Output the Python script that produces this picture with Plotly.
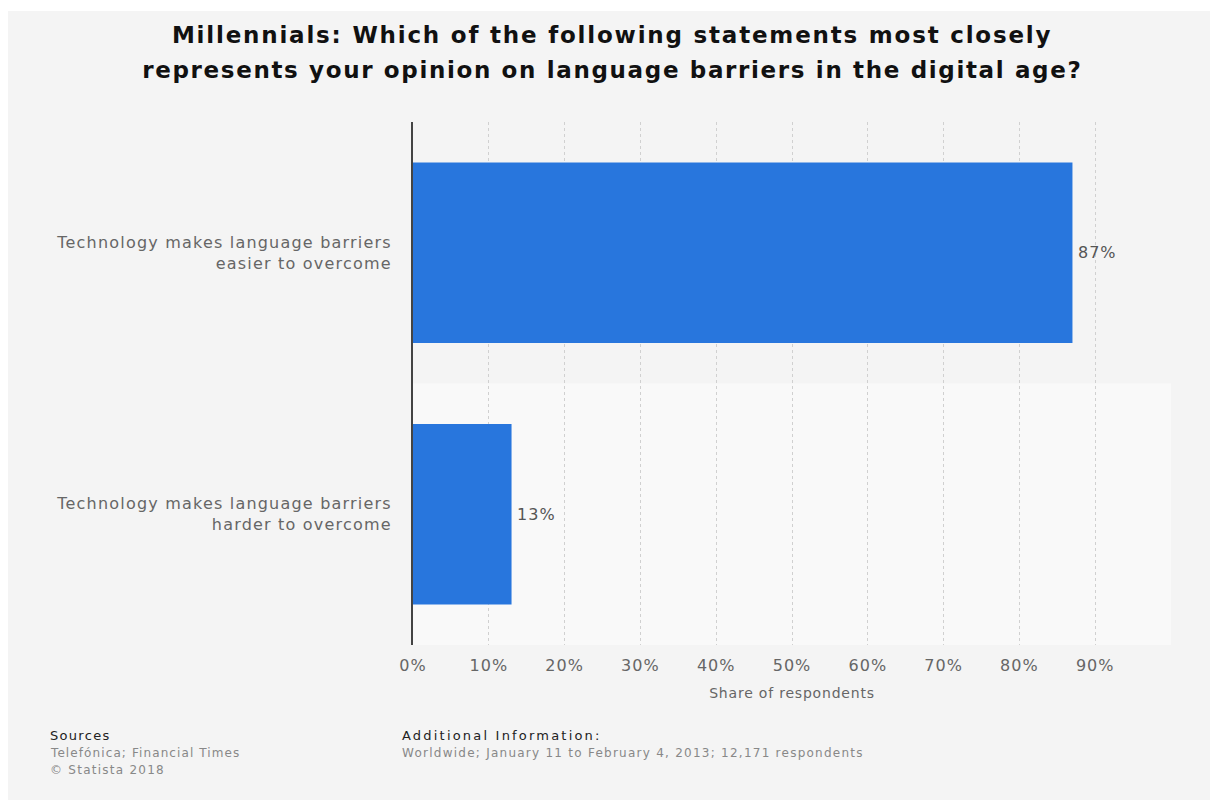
import plotly.graph_objects as go

categories = [
    "Technology makes language barriers<br>harder to overcome",
    "Technology makes language barriers<br>easier to overcome",
]
values = [13, 87]
labels = ["13%", "87%"]
tick_vals = [0, 10, 20, 30, 40, 50, 60, 70, 80, 90, 100]
tick_text = ["0%", "10%", "20%", "30%", "40%", "50%", "60%", "70%", "80%", "90%", ""]

title_lines = [
    "Millennials: Which of the following statements most closely",
    "represents your opinion on language barriers in the digital age?",
]

W, H = 1210, 807
L, R, T, B = 413, 39, 122, 162
pw, ph = W - L - R, H - T - B

def px(x):
    return (x - L) / pw

def py(y):
    return (H - B - y) / ph

fig = go.Figure()
fig.add_trace(go.Bar(
    y=categories, x=values, orientation="h",
    marker=dict(color="#2876dd", line=dict(width=0)),
    text=labels, textposition="outside", cliponaxis=False,
    textfont=dict(family="DejaVu Sans", size=16, color="#555555"),
))

shapes = [
    dict(type="rect", xref="paper", yref="paper", x0=px(8), x1=px(1212), y0=py(800), y1=py(11),
         fillcolor="#f4f4f4", line=dict(width=0), layer="below"),
    dict(type="rect", xref="paper", yref="y", x0=0, x1=1, y0=-0.5, y1=0.5,
         fillcolor="#f9f9f9", line=dict(width=0), layer="below"),
]

def note(text, x, y, size, color, anchor="left", weight="normal"):
    return dict(text=text, x=px(x), y=py(y), xref="paper", yref="paper", xanchor=anchor,
                yanchor="middle", align="left" if anchor == "left" else "center", showarrow=False,
                font=dict(family="DejaVu Sans", size=size, color=color, weight=weight))

annotations = [
    note(title_lines[0], 612, 35, 23, "#111111", anchor="center", weight="bold"),
    note(title_lines[1], 612, 70, 23, "#111111", anchor="center", weight="bold"),
    note("Sources", 48, 735, 13, "#222222"),
    note("Telefónica; Financial Times", 48, 753, 12, "#888888"),
    note("© Statista 2018", 48, 770, 12, "#888888"),
    note("Additional Information:", 400, 735, 13, "#222222"),
    note("Worldwide; January 11 to February 4, 2013; 12,171 respondents", 400, 753, 12, "#888888"),
]

fig.update_layout(
    width=W, height=H,
    margin=dict(l=L, r=R, t=T, b=B, autoexpand=False),
    paper_bgcolor="#ffffff", plot_bgcolor="rgba(0,0,0,0)",
    showlegend=False, bargap=0.31,
    shapes=shapes, annotations=annotations,
    xaxis=dict(range=[0, 100], tickvals=tick_vals, ticktext=tick_text, showgrid=True,
               gridcolor="#d0d0d0", griddash="dot", gridwidth=1, zeroline=False,
               tickfont=dict(family="DejaVu Sans", size=16, color="#666666"), ticks="",
               ticklabelstandoff=9,
               title=dict(text="Share of respondents", standoff=14,
                          font=dict(family="DejaVu Sans", size=14, color="#666666"))),
    yaxis=dict(showline=True, linecolor="#444444", linewidth=2, showgrid=False, ticks="",
               ticklabelstandoff=16,
               tickfont=dict(family="DejaVu Sans", size=16, color="#666666")),
)

js = """
var gd = document.getElementById('{plot_id}');
function ls(sel, v) {
  gd.querySelectorAll(sel).forEach(function (t) { t.style.letterSpacing = v; });
}
function applySpacing() {
  ls('.annotation[data-index="0"] text', '1.8px');
  ls('.annotation[data-index="1"] text', '1.65px');
  ls('.annotation[data-index="2"] text', '1.3px');
  ls('.annotation[data-index="3"] text', '1.1px');
  ls('.annotation[data-index="4"] text', '1.25px');
  ls('.annotation[data-index="5"] text', '2.2px');
  ls('.annotation[data-index="6"] text', '1.25px');
  ls('.xtick text', '1px');
  ls('.ytick text', '1.2px');
  ls('.bartext', '1px');
  ls('.g-xtitle text', '0.8px');
  gd.querySelectorAll('.bartext').forEach(function (t) { t.setAttribute('dx', '4'); });
}
applySpacing();
gd.on('plotly_afterplot', applySpacing);
"""

fig.write_html("out.html", post_script=js)
